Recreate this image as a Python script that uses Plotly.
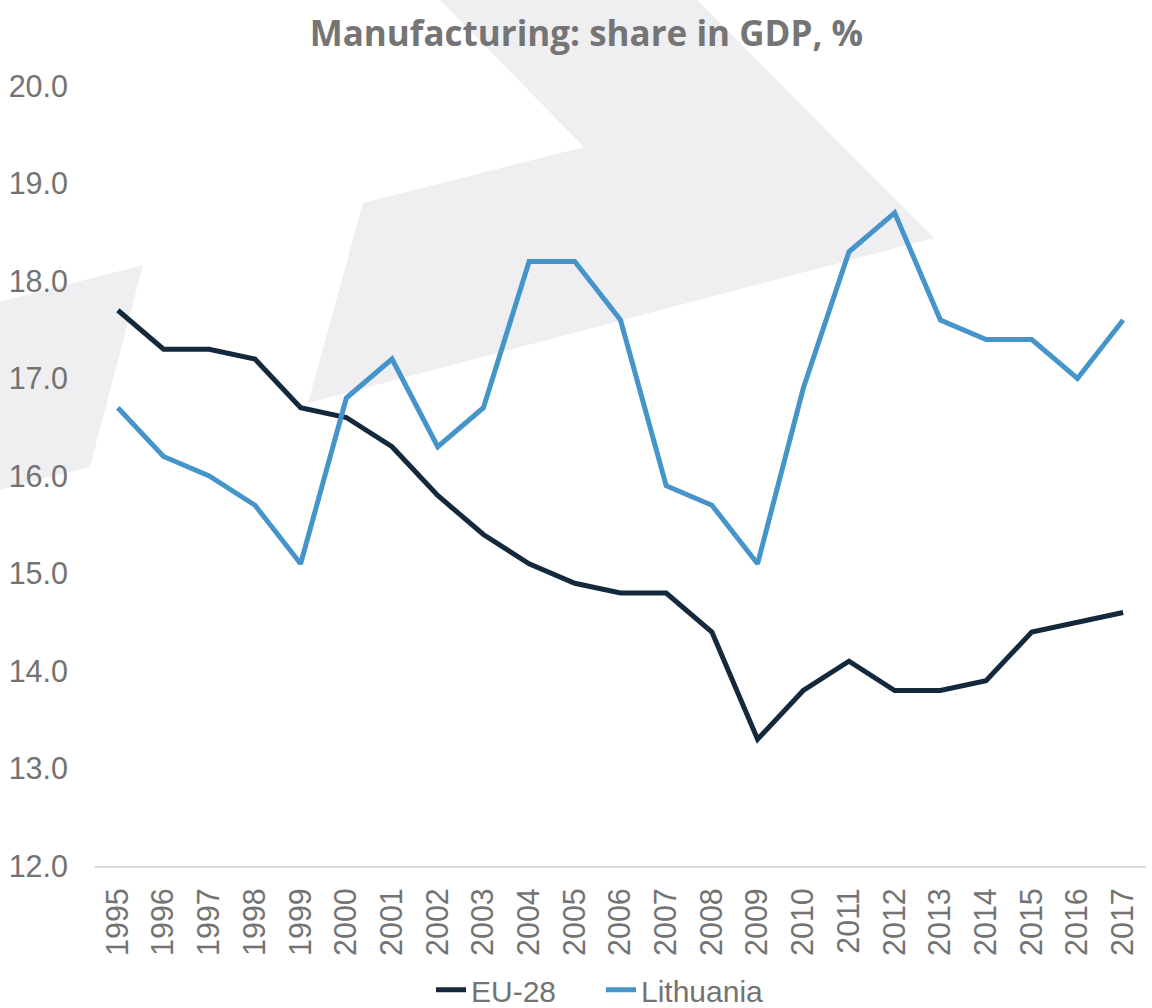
import plotly.graph_objects as go

years = [str(y) for y in range(1995, 2018)]
eu28 = [17.7, 17.3, 17.3, 17.2, 16.7, 16.6, 16.3, 15.8, 15.4, 15.1, 14.9, 14.8,
        14.8, 14.4, 13.3, 13.8, 14.1, 13.8, 13.8, 13.9, 14.4, 14.5, 14.6]
lithuania = [16.7, 16.2, 16.0, 15.7, 15.1, 16.8, 17.2, 16.3, 16.7, 18.2, 18.2, 17.6,
             15.9, 15.7, 15.1, 16.9, 18.3, 18.7, 17.6, 17.4, 17.4, 17.0, 17.6]

W, H = 1152, 1008
ML, MR, MT, MB = 95, W - 1146, 86, H - 866
PW, PH = W - ML - MR, H - MT - MB
GREY = "#737373"


def paper_path(points):
    # background watermark, pixel points -> paper coords
    parts = []
    for i, (px, py) in enumerate(points):
        x = (px - ML) / PW
        y = (H - MB - py) / PH
        parts.append(("M" if i == 0 else "L") + f"{x:.4f},{y:.4f}")
    return " ".join(parts) + " Z"


watermark = [
    [(435, -5), (692, -5), (934, 238), (308, 403), (363, 203), (584, 147)],
    [(-5, 303), (143, 265), (90, 467), (-5, 491)],
]

fig = go.Figure()
fig.add_trace(go.Scatter(x=years, y=eu28, name="EU-28", mode="lines",
                         line=dict(color="#15293c", width=5)))
fig.add_trace(go.Scatter(x=years, y=lithuania, name="Lithuania", mode="lines",
                         line=dict(color="#4595cb", width=5)))

for pts in watermark:
    fig.add_shape(type="path", path=paper_path(pts), xref="paper", yref="paper",
                  fillcolor="#efeff1", line=dict(width=0), layer="below")

fig.update_layout(
    width=W, height=H,
    margin=dict(l=ML, r=MR, t=MT, b=MB, autoexpand=False),
    paper_bgcolor="white",
    plot_bgcolor="rgba(0,0,0,0)",
    font=dict(family="Liberation Sans, Arial, sans-serif", size=30, color=GREY),
    title=dict(text="<b>Manufacturing: share in GDP, %</b>", x=0.509, xref="container",
               xanchor="center", y=0.967, yref="container", yanchor="middle",
               font=dict(family="Open Sans, sans-serif", size=35, color="#757575")),
    showlegend=True,
    legend=dict(orientation="h", x=431 / W, xref="container", xanchor="left",
                y=0.018, yref="container", yanchor="middle",
                font=dict(size=30, color=GREY), entrywidth=125,
                entrywidthmode="pixels", bgcolor="rgba(0,0,0,0)"),
)
fig.update_xaxes(type="category", range=[-0.5, 22.5], showgrid=False, showline=True,
                 linecolor="#d9d9d9", linewidth=2, tickangle=-90, ticks="",
                 automargin=False, ticklabelstandoff=8,
                 tickfont=dict(size=30.5, color=GREY))
fig.update_yaxes(range=[12, 20], dtick=1, tickformat=".1f", showgrid=False,
                 zeroline=False, showline=False, ticks="", automargin=False,
                 ticklabelstandoff=26, tickfont=dict(size=30.5, color=GREY))

# drop the default page margin so the figure fills the window
fig.write_html("out.html", config={"displayModeBar": False},
               post_script="document.body.style.margin = '0';")
